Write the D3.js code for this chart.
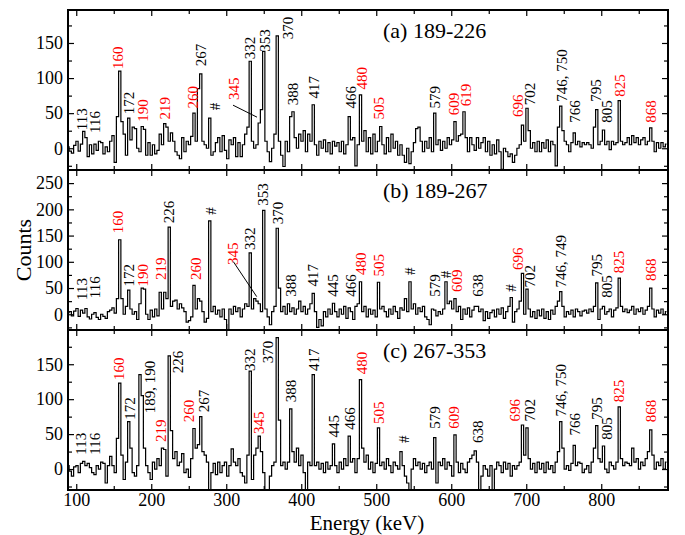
<!DOCTYPE html>
<html><head><meta charset="utf-8">
<script src="https://cdn.jsdelivr.net/npm/d3@7"></script>
<style>body{margin:0;background:#fff} text{font-family:"Liberation Serif","Times New Roman","DejaVu Serif",serif}</style>
</head><body>
<svg id="chart" width="685" height="535"></svg>
<script>
// channel energies: first channel and channel width (keV)
const E0 = 89, STEP = 3;

const countsA = [
 2,-4,-7,4,10,-4,6,24,15,-12,
 5,-8,6,-3,10,8,-8,2,-5,10,
 18,-20,45,110,38,20,-10,43,12,30,
 28,0,-5,31,27,-10,8,-10,5,-8,
 -3,20,5,35,30,10,22,10,-5,-10,
 -15,15,-5,10,5,17,50,10,85,106,
 10,5,0,43,-10,-5,8,15,-5,18,
 -3,-15,12,5,15,-12,8,-12,5,20,
 30,124,10,0,5,36,55,138,10,-5,
 -19,0,20,160,10,-10,-26,10,-5,45,
 52,15,0,20,10,25,-5,20,10,62,
 5,-10,10,0,12,-5,8,-8,10,3,
 8,-5,10,-8,5,45,12,15,-25,5,
 76,10,25,-5,15,-8,20,-5,10,31,
 5,-8,15,-5,20,0,10,-10,5,-10,
 -20,0,-22,-5,8,28,30,10,-5,10,
 0,15,-5,50,5,12,-3,10,0,15,
 5,12,38,10,18,20,52,15,-5,15,
 5,-3,15,0,8,15,-5,10,-10,5,
 -8,12,-5,-30,0,-5,-12,-8,-20,-10,
 0,5,33,10,57,25,0,8,-5,10,
 -5,8,0,12,-5,10,5,-25,30,60,
 25,10,5,-5,8,22,5,10,2,8,
 5,8,5,0,30,55,5,10,26,5,
 10,-2,10,5,8,68,10,5,8,15,
 5,18,8,15,5,12,15,5,10,29,
 10,-5,8,0,8,2,6
];
const countsB = [
 3,5,-3,6,11,-4,8,2,11,-5,
 -9,0,3,-6,-10,0,-4,-8,5,8,
 12,2,30,142,30,0,15,46,10,0,
 5,-10,20,50,48,0,-10,8,-5,10,
 -3,42,10,42,30,166,15,25,27,10,
 20,12,5,-15,-12,-5,55,10,30,25,
 5,-15,-8,178,5,15,0,8,-5,10,
 -10,-30,10,0,15,5,12,-5,10,20,
 15,117,10,30,25,20,5,198,10,-5,
 -20,5,15,164,50,5,15,0,20,5,
 12,0,10,25,5,15,0,10,20,40,
 5,-25,-10,-22,5,-5,10,0,21,5,
 -5,10,0,15,-8,12,5,-10,15,20,
 62,5,15,-5,10,0,8,-5,61,10,
 15,5,-5,10,0,15,5,-8,12,8,
 30,5,62,10,20,0,12,5,15,-5,
 -10,-20,10,8,-3,5,0,10,62,20,
 25,10,30,5,15,-10,10,0,12,-5,
 8,15,15,5,10,-12,5,-8,3,8,
 -5,10,0,12,-8,5,15,32,-15,5,
 10,25,78,0,48,10,-5,5,-8,8,
 -3,10,-8,5,-10,8,0,15,25,43,
 15,-5,5,0,8,-5,10,5,-3,6,
 8,2,10,5,15,60,-10,10,15,0,
 5,10,-5,8,12,69,15,5,10,3,
 8,15,0,10,5,12,0,8,15,50,
 10,-5,8,2,10,0,5
];
const countsC = [
 5,-3,-10,3,5,-5,8,11,5,8,
 2,-5,-8,5,0,10,8,-20,5,18,
 5,-5,44,123,20,-15,10,68,30,-5,
 -10,5,135,105,30,5,-5,-15,10,0,
 15,5,30,28,-10,162,55,15,25,5,
 10,22,-5,0,-12,15,58,30,35,75,
 25,20,10,-30,-5,8,-8,10,-5,5,
 10,-10,5,29,10,5,15,-5,-10,-20,
 20,140,-15,20,30,47,25,-5,-30,-30,
 -10,5,10,188,70,5,10,0,10,86,
 25,10,30,5,20,-5,-30,10,5,135,
 5,10,0,8,-5,10,0,5,36,5,
 -5,10,0,15,5,47,10,15,-5,15,
 128,30,10,20,0,10,-5,8,59,5,
 10,0,15,5,-5,10,5,0,25,5,
 -10,-20,-30,0,15,5,10,0,8,-5,
 5,10,0,45,-20,10,5,15,0,10,
 5,-10,49,10,-5,8,0,-5,10,15,
 20,26,10,-30,-10,5,0,-10,5,-30,
 0,10,5,-5,10,0,8,-10,5,0,
 5,10,63,20,59,15,0,8,-5,10,
 0,8,-5,10,0,5,-5,10,25,68,
 30,0,5,-2,8,34,5,10,8,-5,
 0,5,-5,10,30,62,15,10,33,0,
 -5,10,5,0,10,89,15,5,10,8,
 5,30,10,15,0,10,5,15,25,56,
 20,0,10,5,15,0,10
];

const panelTitles = ["(a) 189-226", "(b) 189-267", "(c) 267-353"];
const xDomain = [89, 889];
const yDomains = [[-31, 197], [-30, 275], [-30, 199]];
const xTicks = [100, 200, 300, 400, 500, 600, 700, 800];
const yTicksA = [0, 50, 100, 150];
const yTicksB = [0, 50, 100, 150, 200, 250];
const yTicksC = [0, 50, 100, 150];

// peak labels: [text, energy, counts at label start, 1 = red]
const labelsA = [["113",107.2,25.7,0],["116",124.6,21.9,0],["160",155.4,112.9,1],["172",170.1,48.6,0],["190",188.3,37.6,1],["219",217.7,41,1],["260",255,56.7,1],["267",266,117,0],["#",284.6,54.3,0],["345",310.3,68.6,1],["332",331.2,126.7,0],["353",351.7,137.6,0],["370",381.4,155.2,0],["388",388.3,61.4,0],["417",416.6,71,0],["466",465.4,56.7,0],["480",480.6,83.8,1],["505",503.7,41,1],["579",577.7,56.7,0],["609",603.7,47.1,1],["619",619,60,1],["696",688.3,44.7,1],["702",705,61.4,0],["746, 750",747.2,66.2,0],["766",764.3,36.2,0],["795",792.7,66.2,0],["805",806.7,36.2,0],["825",825,73.3,1],["868",865.7,36.2,1]];
const labelsB = [["113",107.2,27.3,0],["116",124.6,30.5,0],["160",155.4,154.6,1],["172",170.1,52.7,0],["190",188.3,52.7,1],["219",212.8,65.5,1],["226",223.9,173.7,0],["260",259.4,65.5,1],["#",279.7,189.5,0],["345",309,94,1],["332",331.2,122.7,0],["353",349,207,0],["370",368.3,171.8,0],["388",386.1,33.6,0],["417",415.4,52.7,0],["445",441.7,33.6,0],["466",466,33.6,0],["480",479.4,75,1],["505",503.7,71.8,1],["#",545,75,0],["579",577.7,33.6,0],["#",593.3,68.7,0],["609",607.7,42.6,1],["638",635,33.6,0],["#",679.4,43,0],["696",688.8,84.5,1],["702",705,50.8,0],["746, 749",746.6,50.8,0],["795",793.4,71.8,0],["805",806.7,31.7,0],["825",823,78.2,1],["868",865.4,63.5,1]];
const labelsC = [["113",106.6,20.4,0],["116",124.6,20.4,0],["160",157.2,127.6,1],["172",171.2,70.4,0],["189, 190",198.3,80,0],["219",212.1,38.6,1],["226",234.8,137,0],["260",250,67,1],["267",270.3,81.4,0],["332",331.2,140.4,0],["370",355,151.4,0],["345",343.4,50,1],["388",386.3,95.7,0],["417",416.1,140.4,0],["445",443.5,45.1,0],["466",465.3,56.1,0],["480",480.6,135.7,1],["505",503.4,64.3,1],["#",536.1,37.1,0],["579",577.7,57.6,0],["609",603.7,57.6,1],["638",635.4,37.1,0],["696",684.3,68,1],["702",704,68,0],["746, 750",745.9,75.1,0],["766",764.3,48,0],["795",793.4,70.4,0],["805",806.7,41.9,0],["825",823,95.7,1],["868",865.4,67,1]];

// leader lines: [E1, c1, E2, c2]
const leadersA = [[309, 61.4, 341, 44.3]];
const leadersB = [[309.4, 100.4, 340.6, 33.6]];
const leadersC = [];

const panels = [
  {counts: countsA, labels: labelsA, leaders: leadersA, yTicks: yTicksA},
  {counts: countsB, labels: labelsB, leaders: leadersB, yTicks: yTicksB},
  {counts: countsC, labels: labelsC, leaders: leadersC, yTicks: yTicksC}
];

const FONT = '"Liberation Serif","Times New Roman","DejaVu Serif",serif';
const svg = d3.select("#chart");
const L = 68, R = 668, T0 = 10, PH = 160;
const RED = "#ff0000";
const x = d3.scaleLinear().domain(xDomain).range([L, R]);

function styleAxis(g, fs) {
  g.select(".domain").remove();
  g.selectAll(".tick line").attr("stroke", "#000").attr("stroke-width", 1.2);
  g.selectAll("text").attr("fill", "#000").style("font-size", fs + "px").style("font-family", FONT);
  g.attr("font-family", null).attr("font-size", null);
}

panels.forEach((p, i) => {
  const top = T0 + PH * i, bot = top + PH;
  const y = d3.scaleLinear().domain(yDomains[i]).range([bot, top]);
  const g = svg.append("g");
  const clipId = "clip" + i;
  svg.append("clipPath").attr("id", clipId).append("rect")
    .attr("x", L).attr("y", top).attr("width", R - L).attr("height", PH);

  const data = p.counts.map((c, k) => ({e: E0 + STEP * k, c}));
  const line = d3.line().x(d => x(d.e)).y(d => y(d.c)).curve(d3.curveStep);
  g.append("path").datum(data).attr("d", line).attr("fill", "none")
    .attr("stroke", "#000").attr("stroke-width", 1.2).attr("clip-path", `url(#${clipId})`);

  const xMinor = d3.range(50, 900, 100).filter(v => v > xDomain[0] && v < xDomain[1]);
  const yMinor = d3.range(-25, yDomains[i][1], 50).filter(v => v > yDomains[i][0]);
  const isLast = i === panels.length - 1;

  styleAxis(g.append("g").attr("transform", `translate(0,${bot})`)
    .call(d3.axisBottom(x).tickValues(xTicks).tickSize(-6).tickPadding(3).tickFormat(isLast ? d3.format("d") : () => "")), 18);
  styleAxis(g.append("g").attr("transform", `translate(0,${bot})`)
    .call(d3.axisBottom(x).tickValues(xMinor).tickSize(-4).tickFormat(() => "")), 18);
  styleAxis(g.append("g").attr("transform", `translate(0,${top})`)
    .call(d3.axisTop(x).tickValues(xTicks).tickSize(-6).tickFormat(() => "")), 18);
  styleAxis(g.append("g").attr("transform", `translate(0,${top})`)
    .call(d3.axisTop(x).tickValues(xMinor).tickSize(-4).tickFormat(() => "")), 18);
  styleAxis(g.append("g").attr("transform", `translate(${L},0)`)
    .call(d3.axisLeft(y).tickValues(p.yTicks).tickSize(-6).tickPadding(5).tickFormat(d3.format("d"))), 18);
  styleAxis(g.append("g").attr("transform", `translate(${L},0)`)
    .call(d3.axisLeft(y).tickValues(yMinor).tickSize(-4).tickFormat(() => "")), 18);
  styleAxis(g.append("g").attr("transform", `translate(${R},0)`)
    .call(d3.axisRight(y).tickValues(p.yTicks).tickSize(-6).tickFormat(() => "")), 18);
  styleAxis(g.append("g").attr("transform", `translate(${R},0)`)
    .call(d3.axisRight(y).tickValues(yMinor).tickSize(-4).tickFormat(() => "")), 18);

  g.append("rect").attr("x", L).attr("y", top).attr("width", R - L).attr("height", PH)
    .attr("fill", "none").attr("stroke", "#000").attr("stroke-width", 2);

  g.append("text").attr("x", 383).attr("y", top + 27.5).attr("fill", "#000")
    .style("font-size", "22px").text(panelTitles[i]);

  g.selectAll("text.pk").data(p.labels).enter().append("text").attr("class", "pk")
    .attr("transform", d => `translate(${x(d[1])},${y(d[2])}) rotate(-90)`)
    .attr("dy", "0.35em").attr("text-anchor", "start")
    .attr("fill", d => d[3] ? RED : "#000").style("font-size", "15px")
    .text(d => d[0]);

  g.selectAll("line.ld").data(p.leaders).enter().append("line").attr("class", "ld")
    .attr("x1", d => x(d[0])).attr("y1", d => y(d[1]))
    .attr("x2", d => x(d[2])).attr("y2", d => y(d[3]))
    .attr("stroke", "#000").attr("stroke-width", 1);
});

svg.append("text").attr("x", 367).attr("y", 530).attr("text-anchor", "middle")
  .attr("fill", "#000").style("font-size", "21px").text("Energy (keV)");
svg.append("text").attr("transform", "translate(31,250) rotate(-90)").attr("text-anchor", "middle")
  .attr("fill", "#000").style("font-size", "22px").text("Counts");
</script>
</body></html>
